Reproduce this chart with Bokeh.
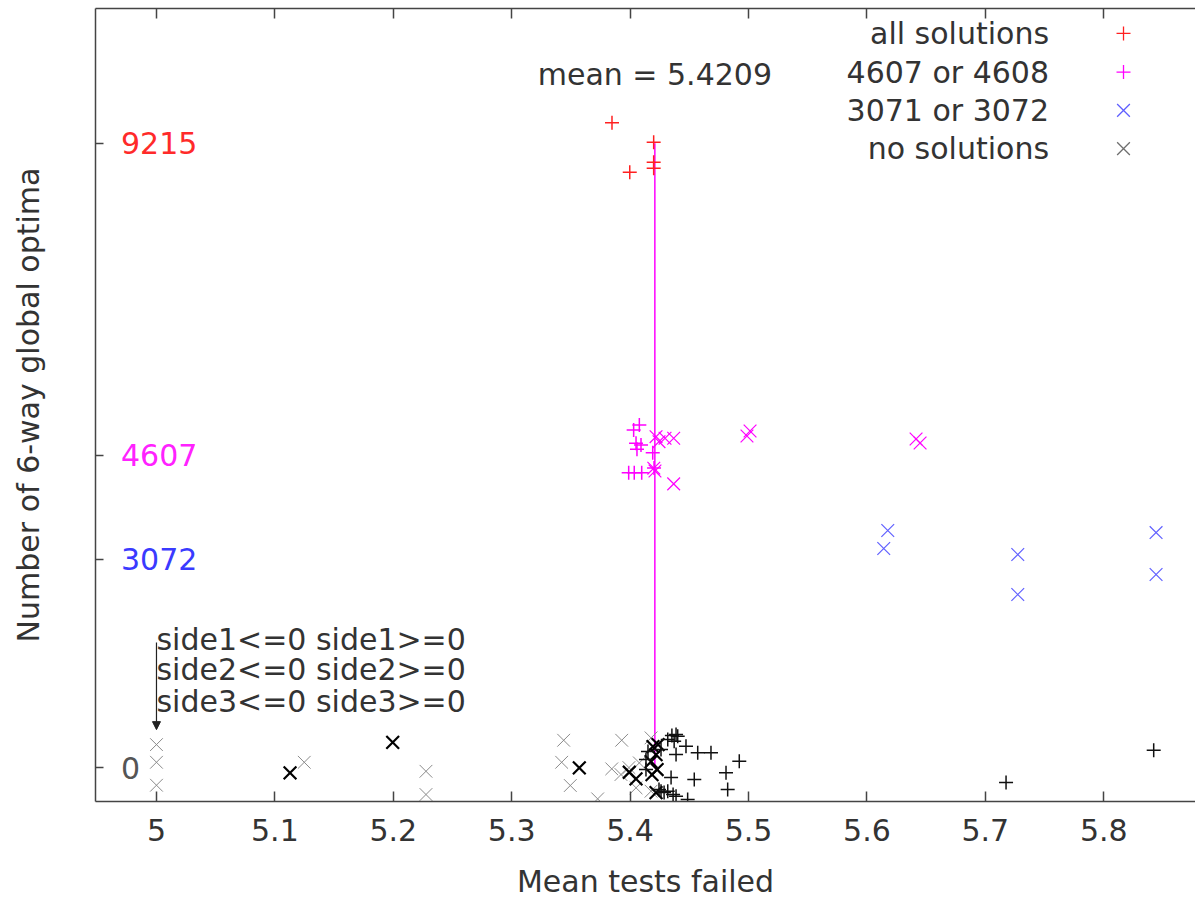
from bokeh.plotting import figure
from bokeh.models import Range1d, FixedTicker, LinearAxis, Arrow, NormalHead, CustomJSTickFormatter
from bokeh.core.properties import value
from bokeh.embed import file_html
from bokeh.resources import INLINE

# ---------------- data ----------------
mean_val = 5.4209
all_x = [5.3847, 5.4199, 5.4199, 5.4199, 5.3997]
all_y = [9521, 9230, 8935, 8847, 8788]

mag_plus_x = [5.4078, 5.4030, 5.4050, 5.4092, 5.4058, 5.4191, 5.3988, 5.4035, 5.4098, 5.4202]
mag_plus_y = [5058, 4984, 4788, 4763, 4699, 4649, 4354, 4354, 4354, 4423]
mag_x_x = [5.4219, 5.4295, 5.4368, 5.4244, 5.4210, 5.4200, 5.4368, 5.4987, 5.5013, 5.6415, 5.6449]
mag_x_y = [4885, 4861, 4861, 4811, 4379, 4420, 4188, 4895, 4969, 4851, 4792]

blue_x = [5.6176, 5.6142, 5.7274, 5.7274, 5.8442, 5.8442]
blue_y = [3499, 3234, 3145, 2555, 3469, 2850]

none_x = [5.0, 5.0, 5.0, 5.1248, 5.1995, 5.2276, 5.2276, 5.3439, 5.3422, 5.3495, 5.3726,
          5.3929, 5.3845, 5.3923, 5.4050, 5.4177, 5.4078, 5.4177, 5.3990]
none_y = [339, 78, -261, 78, 373, -55, -398, 403, 78, -265, -462,
          403, -19, -103, -299, 438, 69, -349, 0]

bold_x = [5.1128, 5.1995, 5.3571, 5.4050, 5.3993, 5.4193, 5.4219, 5.4177, 5.4228, 5.4185,
          5.4236, 5.4219]
bold_y = [-78, 373, -4, -167, -69, 310, 192, 88, -29, -103, 339, -369]

plus_x = [5.4388, 5.4318, 5.4472, 5.4571, 5.4683, 5.4388, 5.4922, 5.4810, 5.4542, 5.4824,
          5.4388, 5.4318, 5.4261, 5.4486, 5.8422, 5.7175, 5.4151, 5.4261, 5.4134, 5.4244,
          5.4287, 5.4363, 5.4346, 5.4134, 5.4353, 5.4402, 5.4372]
plus_y = [487, 413, 314, 217, 217, 192, 93, -78, -177, -324,
          -423, -349, -349, -472, 255, -221, 236, 265, -29, -324,
          -369, -398, -147, 118, 472, 462, 388]

ytick_vals = [0, 3072, 4607, 9215]
ytick_labels = ["0", "3072", "4607", "9215"]
ytick_colors = ["#555555", "#3a3aff", "#ff22ff", "#ff2a2a"]
xtick_vals = [5.0, 5.1, 5.2, 5.3, 5.4, 5.5, 5.6, 5.7, 5.8]

legend_labels = ["all solutions", "4607 or 4608", "3071 or 3072", "no solutions"]
legend_markers = ["cross", "cross", "x", "x"]
legend_colors = ["#ff2020", "#ff00ff", "#6060ff", "#707070"]

note_lines = ["side1<=0 side1>=0", "side2<=0 side2>=0", "side3<=0 side3>=0"]

# ---------------- layout / style ----------------
FONT = "DejaVu Sans"
FS = "30px"
TXT = "#333333"
X_RANGE = (4.9485, 5.8775)
Y_RANGE = (-501, 11206)
XS = 18   # size of x markers
PS = 14   # size of + markers

p = figure(width=1195, height=901, output_backend="svg", toolbar_location=None,
           x_range=Range1d(*X_RANGE), y_range=Range1d(*Y_RANGE),
           min_border_left=95, min_border_right=0, min_border_top=8, min_border_bottom=0)
p.outline_line_color = None
p.grid.visible = False
p.background_fill_color = "white"

blank = CustomJSTickFormatter(code="return ''")

# bottom axis
xa = p.xaxis[0]
xa.ticker = FixedTicker(ticks=xtick_vals)
xa.minor_tick_line_color = None
xa.major_tick_in = 10
xa.major_tick_out = 0
xa.major_label_standoff = 17
xa.axis_label = "Mean tests failed"
xa.axis_label_standoff = 20
xa.axis_label_text_font_style = "normal"
xa.major_label_text_font_size = FS

# left axis
ya = p.yaxis[0]
ya.ticker = FixedTicker(ticks=ytick_vals)
ya.formatter = blank
ya.minor_tick_line_color = None
ya.major_tick_in = 8
ya.major_tick_out = 0
ya.major_label_text_font_size = "1px"
ya.major_label_standoff = 0
ya.axis_label = "Number of 6-way global optima"
ya.axis_label_standoff = 50
ya.axis_label_text_font_style = "normal"

# top axis (mirror ticks, no labels)
ta = LinearAxis(ticker=FixedTicker(ticks=xtick_vals), formatter=blank,
                major_tick_in=10, major_tick_out=0, minor_tick_line_color=None,
                major_label_text_font_size="1px", major_label_standoff=0)
p.add_layout(ta, "above")

for ax in (xa, ya, ta):
    ax.axis_line_color = "#444444"
    ax.axis_line_width = 1.5
    ax.major_tick_line_color = "#444444"
    ax.major_tick_line_width = 1.5
    ax.major_label_text_font = FONT
    ax.axis_label_text_font = FONT
    ax.axis_label_text_font_size = FS
    ax.axis_label_text_color = TXT
    ax.major_label_text_color = TXT

# colored y tick labels drawn inside the frame
p.text(x=[4.97] * len(ytick_vals), y=ytick_vals, text=ytick_labels, text_color=ytick_colors,
       text_font=value(FONT), text_font_size=FS, text_align="left", text_baseline="middle")

# mean line and label
p.segment(x0=[mean_val], y0=[0], x1=[mean_val], y1=[max(ytick_vals)],
          line_color="#ff00ff", line_width=1.5)
p.text(x=[mean_val], y=[10230], text=["mean = %.4f" % mean_val], text_color=TXT,
       text_font=value(FONT), text_font_size=FS, text_align="center", text_baseline="middle")

# series
p.scatter(none_x, none_y, marker="x", size=XS, line_color="#8a8a8a", line_width=1)
p.scatter(bold_x, bold_y, marker="x", size=XS, line_color="#000000", line_width=2.2)
p.scatter(plus_x, plus_y, marker="cross", size=PS, line_color="#111111", line_width=1.5)
p.scatter(blue_x, blue_y, marker="x", size=XS, line_color="#6060ff", line_width=1.2)
p.scatter(mag_x_x, mag_x_y, marker="x", size=XS, line_color="#ff00ff", line_width=1.2)
p.scatter(mag_plus_x, mag_plus_y, marker="cross", size=PS, line_color="#ff00ff", line_width=1.5)
p.scatter(all_x, all_y, marker="cross", size=PS, line_color="#ff2020", line_width=1.5)

# annotation text and arrow
note_y = [1887, 1445, 973]
p.text(x=[5.0] * 3, y=note_y, text=note_lines, text_color=TXT, text_font=value(FONT),
       text_font_size=FS, text_align="left", text_baseline="middle")
p.add_layout(Arrow(x_start=5.0, y_start=1848, x_end=5.0, y_end=560,
                   line_color="#222222", line_width=1.2,
                   end=NormalHead(size=8, fill_color="#222222", line_color="#222222")))

# legend (text right-aligned, symbol on the right)
leg_y = [10838, 10267, 9702, 9137]
p.text(x=[5.7538] * 4, y=leg_y, text=legend_labels, text_color=TXT, text_font=value(FONT),
       text_font_size=FS, text_align="right", text_baseline="middle")
for m, c, yy in zip(legend_markers, legend_colors, leg_y):
    p.scatter([5.8167], [yy], marker=m, size=(PS if m == "cross" else XS),
              line_color=c, line_width=1.3)

open("out.html", "w").write(file_html(p, INLINE))
